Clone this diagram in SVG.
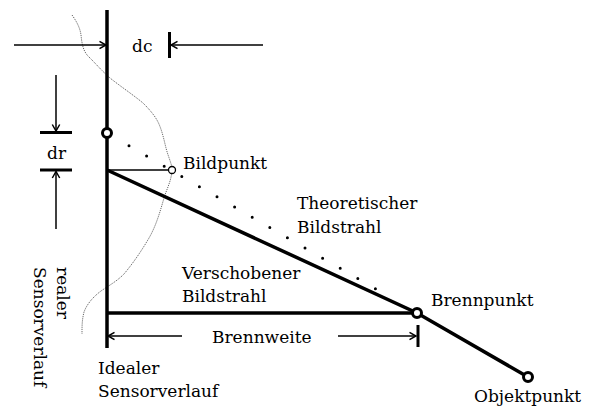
<svg xmlns="http://www.w3.org/2000/svg" width="590" height="408" viewBox="0 0 590 408">
<style>
text{font-family:"DejaVu Serif","Liberation Serif",serif;font-size:17px;fill:#000}
.thick{stroke:#000;stroke-width:3.5;fill:none}
.thin{stroke:#000;stroke-width:1.5;fill:none}
.tick{stroke:#000;stroke-width:3;fill:none}
.arr{stroke:#000;stroke-width:1.5;fill:none;marker-end:url(#ah)}
.pt{stroke:#000;stroke-width:3;fill:#fff}
</style>
<defs>
<marker id="ah" markerUnits="userSpaceOnUse" markerWidth="10" markerHeight="10" refX="7" refY="4" orient="auto" overflow="visible">
<path d="M0.5,0.3 L7,4 L0.5,7.7" fill="none" stroke="#000" stroke-width="1.5"/>
</marker>
</defs>
<g id="real-sensor">
<path d="M72,15 C77,22 80,28 81,35 C82,44 83,52 90,58 C96,64 101,70 110,78 C120,86 132,94 143,103 C150,110 155,116 158,122 C162,130 164,140 166,148 C168,156 171,162 172,168 C172,180 167,188 164,198 C160,212 156,226 149,238 C142,250 134,262 124,274 C116,282 108,286 101,291 C93,297 87,304 84,312 C82,320 82,326 82,334" fill="none" stroke="#555" stroke-width="0.9" stroke-dasharray="1.2 1"/>
<g transform="translate(57,267) rotate(90)">
<text x="0" y="0">realer</text>
<text x="0" y="23.5">Sensorverlauf</text>
</g>
</g>
<g id="ideal-sensor">
<line class="thick" x1="107" y1="10" x2="107" y2="348"/>
<text x="98" y="374">Idealer</text>
<text x="98" y="397">Sensorverlauf</text>
</g>
<g id="connectors">
<line x1="129" y1="145.8" x2="393" y2="299" stroke="#000" stroke-width="3" stroke-linecap="round" stroke-dasharray="0 20.35"/>
<line class="thin" x1="107" y1="170" x2="169" y2="170"/>
<polyline class="thick" points="107,170 417,313 528,377"/>
<line class="thick" x1="107" y1="313" x2="417" y2="313"/>
<!-- dc -->
<line class="arr" x1="14" y1="45" x2="106" y2="45"/>
<line class="arr" x1="263" y1="45" x2="171" y2="45"/>
<line class="tick" x1="169.5" y1="32" x2="169.5" y2="58"/>
<!-- dr -->
<line class="arr" x1="56" y1="75" x2="56" y2="131"/>
<line class="tick" x1="40" y1="132.5" x2="72" y2="132.5"/>
<line class="tick" x1="40" y1="170" x2="72" y2="170"/>
<line class="arr" x1="56" y1="229" x2="56" y2="171.5"/>
<!-- Brennweite -->
<line class="arr" x1="182" y1="336" x2="108" y2="336"/>
<line class="arr" x1="338" y1="336" x2="416" y2="336"/>
<line class="tick" x1="418" y1="325" x2="418" y2="347" stroke-width="2.5"/>
</g>
<g id="labels">
<text x="132" y="52">dc</text>
<text x="47" y="159">dr</text>
<text x="297" y="209">Theoretischer</text>
<text x="297" y="233">Bildstrahl</text>
<text x="182" y="279">Verschobener</text>
<text x="182" y="302">Bildstrahl</text>
<text x="212" y="343">Brennweite</text>
</g>
<g id="sensor-point">
<circle class="pt" cx="107" cy="133" r="4.5"/>
</g>
<g id="bildpunkt">
<circle cx="172" cy="170" r="3.5" fill="#fff" stroke="#000" stroke-width="1.3"/>
<text x="183" y="169">Bildpunkt</text>
</g>
<g id="brennpunkt">
<circle class="pt" cx="417" cy="313" r="4.5"/>
<text x="431" y="306">Brennpunkt</text>
</g>
<g id="objektpunkt">
<circle class="pt" cx="528" cy="377" r="4.5"/>
<text x="474" y="402">Objektpunkt</text>
</g>
</svg>
